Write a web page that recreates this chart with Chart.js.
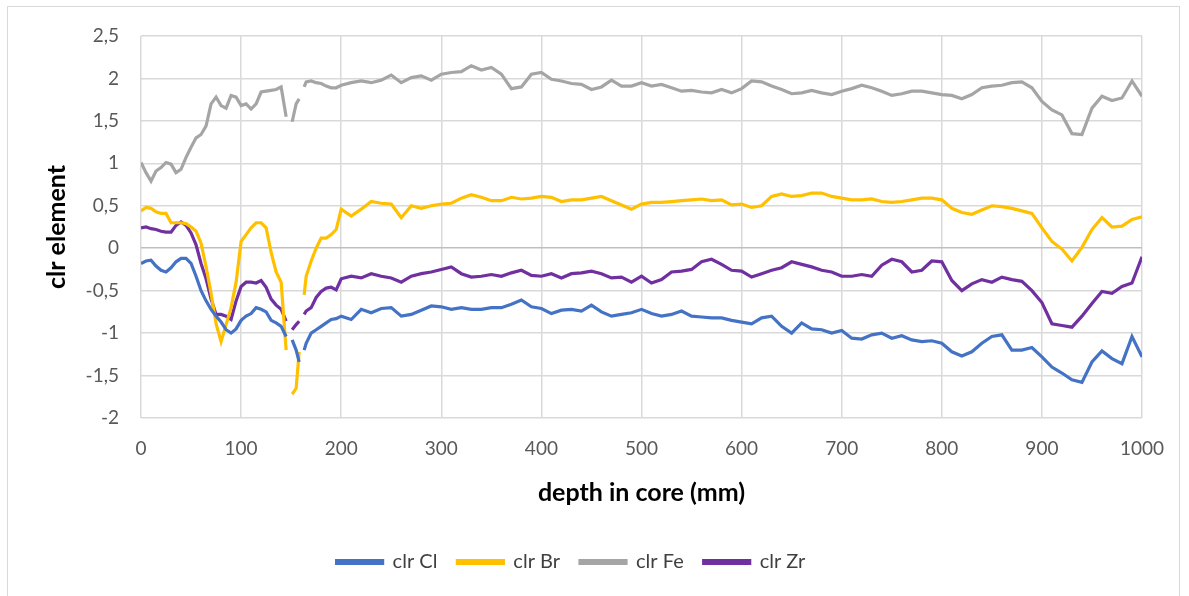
<!DOCTYPE html>
<html>
<head>
<meta charset="utf-8">
<script src="https://cdn.jsdelivr.net/npm/chart.js@4.4.0/dist/chart.umd.min.js"></script>
<style>
  html, body { margin: 0; padding: 0; background: #fff; }
  #wrap { position: relative; width: 1189px; height: 596px; overflow: hidden; }
  #frame { position: absolute; left: 7px; top: 6px; width: 1173px; height: 600px; border: 1px solid #d9d9d9; box-sizing: border-box; }
  canvas { position: absolute; left: 0; top: 0; }
</style>
</head>
<body>
<div id="wrap">
  <div id="frame"></div>
  <canvas id="chart" width="1189" height="596"></canvas>
</div>
<script>
// depth in core (mm) - shared x positions, null = gap in the record
const depth = [0,5,10,15,20,25,30,35,40,45,50,55,60,65,70,75,80,85,90,95,100,105,110,115,120,125,130,135,140,145,148,151,155,158,160,163,165,170,175,180,185,190,195,200,
  210,220,230,240,250,260,270,280,290,300,310,320,330,340,350,360,370,380,390,400,
  410,420,430,440,450,460,470,480,490,500,510,520,530,540,550,560,570,580,590,600,
  610,620,630,640,650,660,670,680,690,700,710,720,730,740,750,760,770,780,790,800,
  810,820,830,840,850,860,870,880,890,900,910,920,930,940,950,960,970,980,990,1000]

const clrCl = [-0.18,-0.15,-0.14,-0.21,-0.26,-0.28,-0.23,-0.16,-0.12,-0.12,-0.18,-0.33,-0.50,-0.62,-0.72,-0.80,-0.87,-0.96,-1.00,-0.95,-0.85,-0.80,-0.77,-0.70,-0.72,-0.75,-0.85,-0.88,-0.92,-1.04,null,-1.08,-1.20,-1.34,null,-1.20,-1.12,-1.00,-0.96,-0.92,-0.88,-0.84,-0.83,-0.80,
  -0.84,-0.72,-0.76,-0.71,-0.70,-0.80,-0.78,-0.73,-0.68,-0.69,-0.72,-0.70,-0.72,-0.72,-0.70,-0.70,-0.66,-0.61,-0.69,-0.71,
  -0.77,-0.73,-0.72,-0.74,-0.67,-0.75,-0.80,-0.78,-0.76,-0.72,-0.77,-0.80,-0.78,-0.74,-0.80,-0.81,-0.82,-0.82,-0.85,-0.87,
  -0.89,-0.82,-0.80,-0.92,-1.00,-0.88,-0.95,-0.96,-1.00,-0.97,-1.06,-1.07,-1.02,-1.00,-1.06,-1.03,-1.08,-1.10,-1.09,-1.12,
  -1.22,-1.27,-1.22,-1.12,-1.04,-1.02,-1.20,-1.20,-1.17,-1.28,-1.40,-1.47,-1.55,-1.58,-1.34,-1.21,-1.30,-1.36,-1.04,-1.28]

const clrBr = [0.44,0.48,0.47,0.43,0.41,0.41,0.30,0.30,0.30,0.29,0.25,0.20,0.06,-0.22,-0.53,-0.89,-1.10,-0.90,-0.70,-0.40,0.08,0.16,0.24,0.30,0.30,0.24,-0.05,-0.28,-0.40,-1.20,null,-1.72,-1.65,-1.22,null,-0.55,-0.33,-0.15,0.00,0.12,0.12,0.16,0.22,0.46,
  0.38,0.46,0.55,0.53,0.52,0.36,0.50,0.47,0.50,0.52,0.53,0.59,0.63,0.60,0.56,0.56,0.60,0.58,0.59,0.61,
  0.60,0.55,0.57,0.57,0.59,0.61,0.56,0.51,0.46,0.52,0.54,0.54,0.55,0.56,0.57,0.58,0.56,0.57,0.51,0.52,
  0.48,0.50,0.61,0.64,0.61,0.62,0.65,0.65,0.61,0.59,0.57,0.57,0.58,0.55,0.54,0.55,0.57,0.59,0.59,0.57,
  0.47,0.42,0.40,0.45,0.50,0.49,0.47,0.44,0.41,0.24,0.08,-0.01,-0.15,0.01,0.22,0.36,0.25,0.26,0.34,0.37]

const clrFe = [1.01,0.89,0.79,0.91,0.95,1.01,0.99,0.89,0.93,1.07,1.19,1.30,1.34,1.44,1.70,1.78,1.68,1.65,1.80,1.78,1.68,1.70,1.64,1.70,1.84,1.85,1.86,1.87,1.90,1.55,null,1.49,1.70,1.76,null,1.90,1.96,1.97,1.95,1.94,1.91,1.89,1.89,1.92,
  1.95,1.97,1.95,1.98,2.04,1.95,2.01,2.03,1.98,2.05,2.07,2.08,2.15,2.10,2.13,2.05,1.88,1.90,2.05,2.07,
  1.99,1.97,1.94,1.93,1.87,1.90,1.98,1.91,1.91,1.95,1.91,1.93,1.89,1.85,1.86,1.84,1.83,1.87,1.83,1.88,
  1.97,1.96,1.91,1.87,1.82,1.83,1.86,1.83,1.81,1.85,1.88,1.92,1.89,1.85,1.80,1.82,1.85,1.85,1.83,1.81,
  1.80,1.76,1.81,1.89,1.91,1.92,1.95,1.96,1.89,1.73,1.63,1.57,1.35,1.34,1.65,1.79,1.74,1.77,1.97,1.79]

const clrZr = [0.24,0.25,0.23,0.22,0.20,0.19,0.19,0.27,0.31,0.27,0.18,0.04,-0.18,-0.36,-0.60,-0.78,-0.78,-0.80,-0.84,-0.62,-0.45,-0.40,-0.40,-0.41,-0.38,-0.46,-0.60,-0.67,-0.72,-0.86,null,-0.96,-0.90,-0.86,null,-0.78,-0.74,-0.70,-0.58,-0.51,-0.47,-0.46,-0.49,-0.36,
  -0.33,-0.35,-0.30,-0.33,-0.35,-0.40,-0.33,-0.30,-0.28,-0.25,-0.22,-0.30,-0.34,-0.33,-0.31,-0.33,-0.29,-0.26,-0.32,-0.33,
  -0.30,-0.35,-0.30,-0.29,-0.27,-0.30,-0.35,-0.34,-0.40,-0.33,-0.41,-0.37,-0.28,-0.27,-0.25,-0.16,-0.13,-0.19,-0.26,-0.27,
  -0.34,-0.30,-0.26,-0.23,-0.16,-0.19,-0.22,-0.26,-0.28,-0.33,-0.33,-0.31,-0.33,-0.20,-0.13,-0.16,-0.28,-0.26,-0.15,-0.16,
  -0.38,-0.50,-0.42,-0.37,-0.40,-0.34,-0.37,-0.39,-0.50,-0.64,-0.89,-0.91,-0.93,-0.80,-0.65,-0.51,-0.53,-0.45,-0.41,-0.10]

const seriesNames = ['clr Cl', 'clr Br', 'clr Fe', 'clr Zr']
const seriesColors = ['#4472C4', '#FFC000', '#A5A5A5', '#7030A0']
const seriesValues = [clrCl, clrBr, clrFe, clrZr]

const font = 'Lato, "Open Sans", sans-serif'

const ctx = document.getElementById('chart').getContext('2d')
const myChart = new Chart(ctx, {
  type: 'line',
  data: {
    datasets: seriesNames.map((name, i) => ({
      label: name,
      data: depth.map((d, j) => ({ x: d, y: seriesValues[i][j] })),
      borderColor: seriesColors[i],
      backgroundColor: seriesColors[i],
      borderWidth: 3.2,
      pointRadius: 0,
      tension: 0,
      spanGaps: false,
      fill: false
    }))
  },
  options: {
    responsive: false,
    animation: false,
    layout: { padding: { left: 0, right: 47, top: 36, bottom: 14 } },
    plugins: {
      tooltip: { enabled: false },
      legend: {
        position: 'bottom',
        labels: {
          boxWidth: 46,
          boxHeight: 3,
          padding: 20,
          color: '#404040',
          font: { family: font, size: 20 }
        }
      }
    },
    scales: {
      x: {
        type: 'linear',
        min: 0,
        max: 1000,
        afterFit: (scale) => { scale.height = 114 },
        ticks: {
          stepSize: 100,
          color: '#595959',
          padding: 19,
          font: { family: font, size: 19 },
          callback: (v) => String(v)
        },
        grid: { color: '#d9d9d9', lineWidth: 1.5, drawTicks: false },
        border: { display: false },
        title: {
          display: true,
          text: 'depth in core (mm)',
          color: '#000',
          font: { family: font, size: 25, weight: 'bold' },
          padding: { top: 0, bottom: 24 }
        }
      },
      y: {
        min: -2,
        max: 2.5,
        afterFit: (scale) => { scale.width = 141 },
        ticks: {
          stepSize: 0.5,
          color: '#595959',
          padding: 22,
          font: { family: font, size: 19 },
          callback: (v) => String(v).replace('.', ',')
        },
        grid: {
          color: (c) => (c.tick && c.tick.value === 0 ? '#bfbfbf' : '#d9d9d9'),
          lineWidth: 1.5,
          drawTicks: false
        },
        border: { display: false },
        title: {
          display: true,
          text: 'clr element',
          color: '#000',
          font: { family: font, size: 25, weight: 'bold' },
          padding: { top: 42, bottom: 0 }
        }
      }
    }
  }
})
</script>
</body>
</html>
